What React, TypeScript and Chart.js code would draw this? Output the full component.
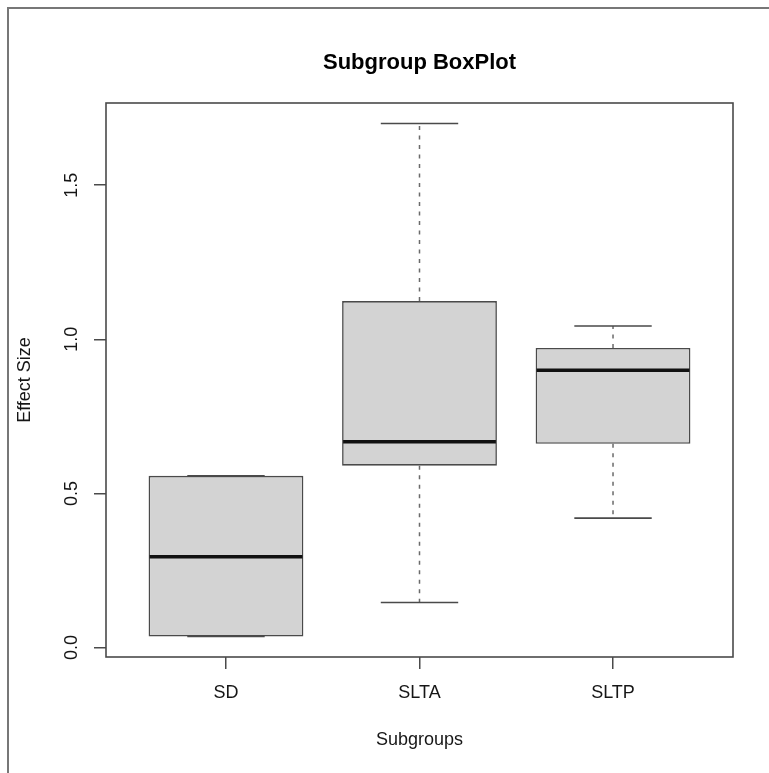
import React, { useEffect, useRef } from 'react';
import { Chart, registerables } from 'chart.js';

Chart.register(...registerables);

// ---- data ----
const CATEGORIES = ['SD', 'SLTA', 'SLTP'];
const POSITIONS = [1, 2, 3];
const MINS = [0.036, 0.146, 0.42];
const Q1S = [0.036, 0.59, 0.661];
const MEDIANS = [0.295, 0.668, 0.9];
const Q3S = [0.557, 1.124, 0.972];
const MAXS = [0.557, 1.7, 1.043];
const Y_TICKS = [0, 0.5, 1.0, 1.5];
const TITLE = 'Subgroup BoxPlot';
const X_TITLE = 'Subgroups';
const Y_TITLE = 'Effect Size';

const FONT = '"Liberation Sans", Arial, Helvetica, sans-serif';
const TEXT_COLOR = '#161616';
const LINE_COLOR = '#4a4a4a';

// R-style 4% axis extension
const yLo = Math.min(...MINS);
const yHi = Math.max(...MAXS);
const yExt = (yHi - yLo) * 0.04;
const Y_MIN = yLo - yExt;
const Y_MAX = yHi + yExt;
const xLo = 0.5;
const xHi = CATEGORIES.length + 0.5;
const xExt = (xHi - xLo) * 0.04;
const X_MIN = xLo - xExt;
const X_MAX = xHi + xExt;

const boxPlugin = {
  id: 'boxWhiskers',
  beforeDraw(chart: any) {
    const { ctx, width, height } = chart;
    ctx.save();
    ctx.fillStyle = '#ffffff';
    ctx.fillRect(0, 0, width, height);
    // outer frame (top and left edges of the image)
    ctx.strokeStyle = '#777777';
    ctx.lineWidth = 2;
    ctx.beginPath();
    ctx.moveTo(width, 8);
    ctx.lineTo(8, 8);
    ctx.lineTo(8, height);
    ctx.stroke();
    ctx.restore();
  },
  afterDatasetsDraw(chart: any) {
    const { ctx, chartArea } = chart;
    const yScale = chart.scales.y;
    const meta = chart.getDatasetMeta(0);
    ctx.save();
    meta.data.forEach((el: any, i: number) => {
      const { x, width } = el.getProps(['x', 'width'], true);
      const yMin = yScale.getPixelForValue(MINS[i]);
      const yQ1 = yScale.getPixelForValue(Q1S[i]);
      const yMed = yScale.getPixelForValue(MEDIANS[i]);
      const yQ3 = yScale.getPixelForValue(Q3S[i]);
      const yMax = yScale.getPixelForValue(MAXS[i]);
      // dashed whiskers
      ctx.strokeStyle = '#6a6a6a';
      ctx.lineWidth = 1.5;
      ctx.setLineDash([4, 5.5]);
      ctx.beginPath();
      ctx.moveTo(x, yQ3);
      ctx.lineTo(x, yMax);
      ctx.moveTo(x, yQ1);
      ctx.lineTo(x, yMin);
      ctx.stroke();
      ctx.setLineDash([]);
      // staples
      ctx.strokeStyle = LINE_COLOR;
      ctx.lineWidth = 1.6;
      ctx.beginPath();
      ctx.moveTo(x - width / 4, yMax);
      ctx.lineTo(x + width / 4, yMax);
      ctx.moveTo(x - width / 4, yMin);
      ctx.lineTo(x + width / 4, yMin);
      ctx.stroke();
      // median
      ctx.strokeStyle = '#111111';
      ctx.lineWidth = 3.5;
      ctx.beginPath();
      ctx.moveTo(x - width / 2 + 1, yMed);
      ctx.lineTo(x + width / 2 - 1, yMed);
      ctx.stroke();
    });
    // plot frame
    ctx.strokeStyle = LINE_COLOR;
    ctx.lineWidth = 1.6;
    ctx.strokeRect(chartArea.left, chartArea.top, chartArea.right - chartArea.left, chartArea.bottom - chartArea.top);
    ctx.restore();
  },
  afterDraw(chart: any) {
    const { ctx } = chart;
    const yScale = chart.scales.y;
    ctx.save();
    ctx.fillStyle = TEXT_COLOR;
    ctx.font = `18px ${FONT}`;
    ctx.textAlign = 'center';
    ctx.textBaseline = 'middle';
    yScale.ticks.forEach((t: any) => {
      const py = yScale.getPixelForValue(t.value);
      ctx.save();
      ctx.translate(yScale.right - 34, py);
      ctx.rotate(-Math.PI / 2);
      ctx.fillText(Number(t.value).toFixed(1), 0, 0);
      ctx.restore();
    });
    ctx.restore();
  },
};

export default function App() {
  const canvasRef = useRef<HTMLCanvasElement | null>(null);

  useEffect(() => {
    if (!canvasRef.current) return;
    const chart = new Chart(canvasRef.current, {
      type: 'bar',
      data: {
        datasets: [
          {
            data: POSITIONS.map((p, i) => ({ x: p, y: [Q1S[i], Q3S[i]] })) as any,
            backgroundColor: '#d3d3d3',
            borderColor: LINE_COLOR,
            borderWidth: 1.6,
            borderSkipped: false,
            barPercentage: 0.8,
            categoryPercentage: 1.0,
          },
        ],
      },
      options: {
        responsive: false,
        animation: false,
        events: [],
        layout: { padding: { left: 0, right: 36, top: 0, bottom: 0 } },
        plugins: {
          legend: { display: false },
          tooltip: { enabled: false },
          title: {
            display: true,
            text: TITLE,
            fullSize: false,
            color: '#000000',
            font: { family: FONT, size: 22, weight: 'bold' },
            padding: { top: 49.3, bottom: 27.3 },
          },
        },
        scales: {
          x: {
            type: 'linear',
            min: X_MIN,
            max: X_MAX,
            offset: false,
            afterBuildTicks: (axis: any) => {
              axis.ticks = POSITIONS.map((v) => ({ value: v }));
            },
            afterFit: (axis: any) => {
              axis.height = 116;
            },
            ticks: {
              callback: (v: any) => CATEGORIES[POSITIONS.indexOf(Number(v))] ?? '',
              color: TEXT_COLOR,
              font: { family: FONT, size: 18 },
              padding: 13.2,
              maxRotation: 0,
              minRotation: 0,
              autoSkip: false,
            },
            grid: { offset: false, drawOnChartArea: false, drawTicks: true, tickLength: 12, color: LINE_COLOR, lineWidth: 1.5 },
            border: { display: false },
            title: {
              display: true,
              text: X_TITLE,
              color: TEXT_COLOR,
              font: { family: FONT, size: 18 },
              padding: { top: 0, bottom: 22.2 },
            },
          },
          y: {
            type: 'linear',
            min: Y_MIN,
            max: Y_MAX,
            afterBuildTicks: (axis: any) => {
              axis.ticks = Y_TICKS.map((v) => ({ value: v }));
            },
            afterFit: (axis: any) => {
              axis.width = 106;
            },
            ticks: { display: false },
            grid: { drawOnChartArea: false, drawTicks: true, tickLength: 12, color: LINE_COLOR, lineWidth: 1.5 },
            border: { display: false },
            title: {
              display: true,
              text: Y_TITLE,
              color: TEXT_COLOR,
              font: { family: FONT, size: 18 },
              padding: { top: 14.2, bottom: 0 },
            },
          },
        },
      },
      plugins: [boxPlugin],
    });
    return () => chart.destroy();
  }, []);

  return (
    <div style={{ position: 'fixed', left: 0, top: 0, width: 769, height: 773, background: '#fff' }}>
      <canvas ref={canvasRef} width={769} height={773} style={{ width: 769, height: 773, display: 'block' }} />
    </div>
  );
}
